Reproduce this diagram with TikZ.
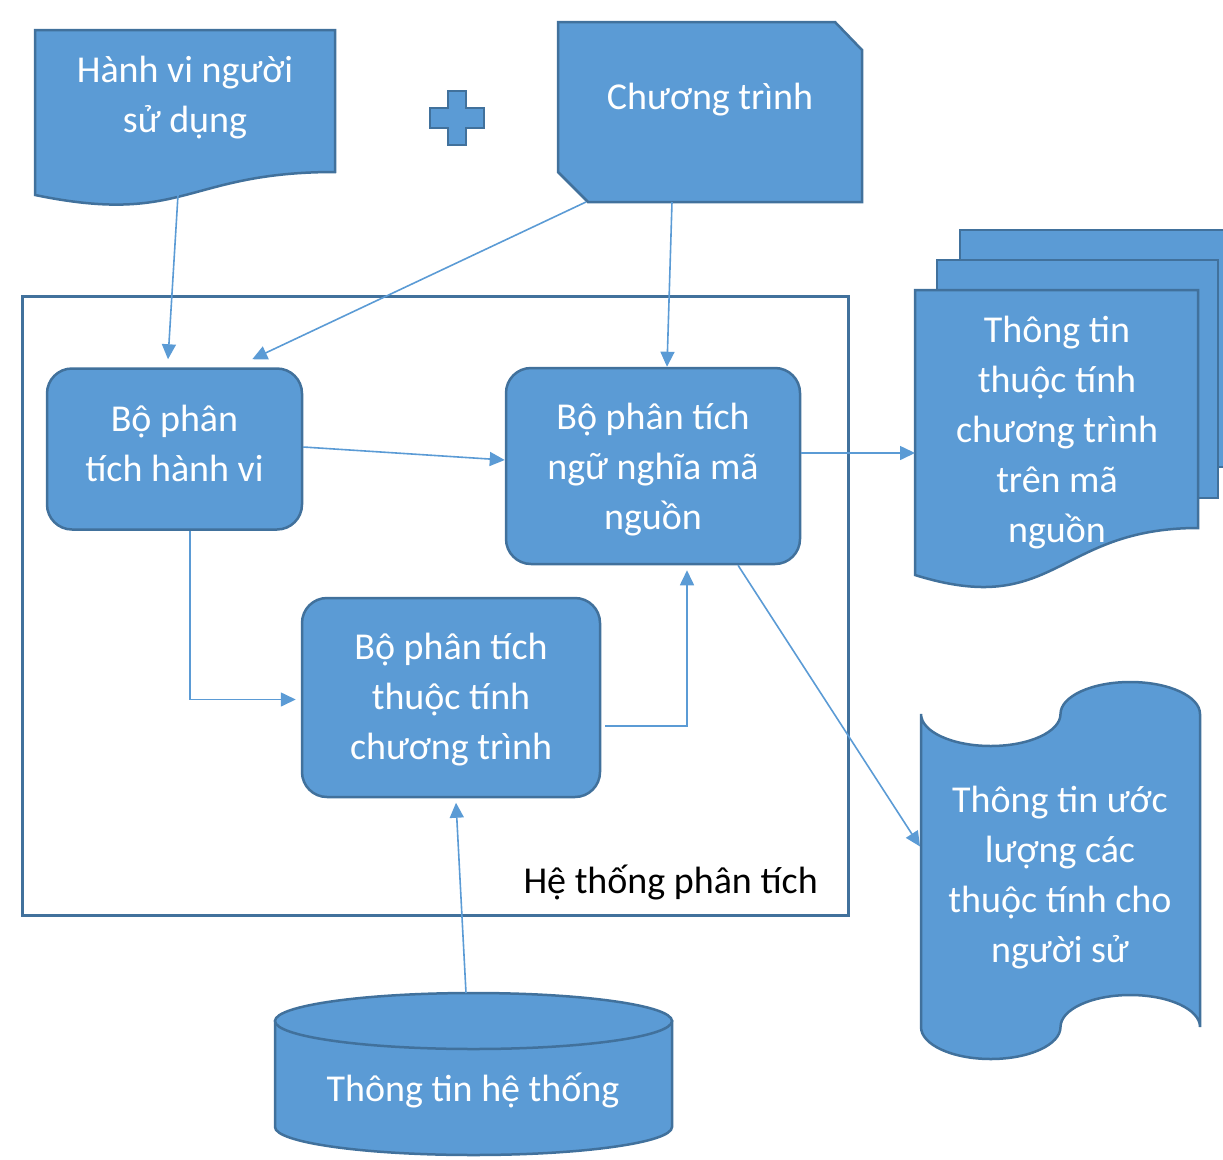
\documentclass[tikz,border=0pt]{standalone}
\usepackage{fontspec}
\setmainfont{Carlito}
\usetikzlibrary{arrows.meta,calc}
\definecolor{fillblue}{HTML}{5B9BD5}
\definecolor{edgeblue}{HTML}{41719C}
\definecolor{linkblue}{HTML}{5B9BD5}
\begin{document}
\begin{tikzpicture}[x=1pt,y=-1pt,
  shapefill/.style={fill=fillblue,draw=edgeblue,line width=2.5pt,line join=miter},
  procbox/.style={shapefill,rounded corners=25pt,inner sep=0pt},
  anchorbox/.style={inner sep=0pt,outer sep=0pt},
  lbl/.style={text=white,font=\fontsize{38}{50}\selectfont,align=center,inner sep=0pt},
  arr/.style={draw=linkblue,line width=1.6pt,-{Triangle[length=15pt,width=14pt]}}]
\useasboundingbox (0,0) rectangle (1223,1159);
\clip (0,0) rectangle (1223,1159);

% system frame
\node[draw=edgeblue,line width=3pt,minimum width=826pt,minimum height=619pt,anchorbox] (sys) at (435,605.5) {};
\node[anchor=east,font=\fontsize{38}{50}\selectfont,inner sep=0pt] (syslabel) at (818,883) {Hệ thống phân tích};

% user behaviour document
\node[anchorbox,minimum width=300pt,minimum height=165pt] (hv) at (185,112.5) {};
\draw[shapefill] (35,30) -- (335,30) -- (335,172) .. controls (185,172) and (185,226) .. (35,195) -- cycle;
\node[lbl] (hvtext) at (185,98) {Hành vi người\\sử dụng};

% plus sign
\draw[shapefill] (448,91) -- (466,91) -- (466,108) -- (484,108) -- (484,128) -- (466,128) -- (466,145) -- (448,145) -- (448,128) -- (430,128) -- (430,108) -- (448,108) -- cycle;

% program (snipped corners)
\node[anchorbox,minimum width=304pt,minimum height=180pt] (ct) at (710,112) {};
\draw[shapefill] (558,22) -- (835,22) -- (862,50) -- (862,202) -- (588,202) -- (558,172) -- cycle;
\node[lbl] (cttext) at (710,100) {Chương trình};

% process boxes
\node[procbox,minimum width=255pt,minimum height=161pt] (A) at (174.5,449) {};
\node[lbl] (Atext) at (174.5,443) {Bộ phân\\tích hành vi};
\node[procbox,minimum width=294pt,minimum height=196pt] (B) at (653,466) {};
\node[lbl] (Btext) at (653,470) {Bộ phân tích\\ngữ nghĩa mã\\nguồn};
\node[procbox,minimum width=298pt,minimum height=199pt] (C) at (451,697.5) {};
\node[lbl] (Ctext) at (451,700) {Bộ phân tích\\thuộc tính\\chương trình};

% multi-document
\draw[shapefill] (960,230) rectangle (1240,467);
\draw[shapefill] (937,260) rectangle (1218,498);
\node[anchorbox,minimum width=283pt,minimum height=297pt] (md) at (1056.5,438.5) {};
\draw[shapefill] (915,290) -- (1198,290) -- (1198,528) .. controls (1056,528) and (1056,619) .. (915,575) -- cycle;
\node[lbl] (mdtext) at (1057,433) {Thông tin\\thuộc tính\\chương trình\\trên mã\\nguồn};

% punched tape
\node[anchorbox,minimum width=279pt,minimum height=375pt] (tape) at (1060.5,871.5) {};
\draw[shapefill] (921,714) arc[start angle=180,end angle=0,x radius=69.75,y radius=32]
  arc[start angle=180,end angle=360,x radius=69.75,y radius=32]
  -- (1200,1027) arc[start angle=0,end angle=-180,x radius=69.75,y radius=32]
  arc[start angle=0,end angle=180,x radius=69.75,y radius=32] -- cycle;
\node[lbl] (tapetext) at (1060,878) {Thông tin ước\\lượng các\\thuộc tính cho\\người sử};

% cylinder
\node[anchorbox,minimum width=397pt,minimum height=162pt] (cyl) at (473.5,1074) {};
\draw[shapefill] (275,1021) -- (275,1127) arc[start angle=180,end angle=0,x radius=198.5,y radius=28] -- (672,1021) -- cycle;
\draw[shapefill] (473.5,1021) ellipse[x radius=198.5,y radius=28];
\node[lbl] (cyltext) at (473,1091) {Thông tin hệ thống};

% connectors
\draw[arr] ([xshift=-7pt]hv.south) -- ([xshift=-6.5pt,yshift=8pt]A.north);
\draw[arr] ([xshift=28pt]ct.south west) -- ([xshift=-51pt,yshift=8pt]A.north east);
\draw[arr] ([xshift=-38pt]ct.south) -- ([xshift=14pt]B.north);
\draw[arr] ([yshift=2pt]A.east) -- ([yshift=6pt]B.west);
\draw[arr] ([xshift=15.5pt]A.south) |- ([xshift=-5pt,yshift=-2pt]C.west);
\draw[arr] ([xshift=4pt,yshift=-28.5pt]C.east) -| ([xshift=34pt,yshift=-5pt]B.south);
\draw[arr] ([yshift=13pt]B.east) -- ([yshift=-14.5pt]md.west);
\draw[arr] ([xshift=85pt]B.south) -- ([xshift=-1pt,yshift=25pt]tape.west);
\draw[arr] ([xshift=-7.5pt]cyl.north) -- ([xshift=5pt,yshift=-4.5pt]C.south);
\end{tikzpicture}
\end{document}
